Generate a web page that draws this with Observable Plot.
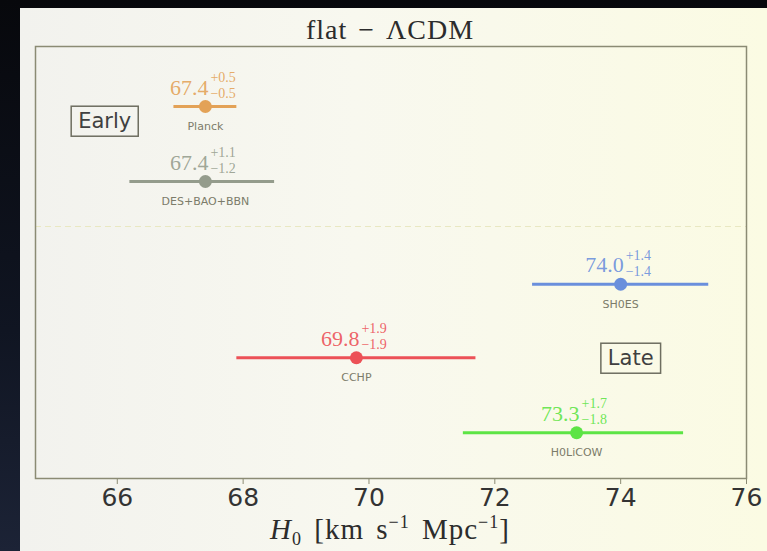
<!DOCTYPE html>
<html>
<head>
<meta charset="utf-8">
<script src="https://cdn.jsdelivr.net/npm/d3@7"></script>
<script src="https://cdn.jsdelivr.net/npm/@observablehq/plot@0.6"></script>
<style>
  html, body { margin: 0; padding: 0; }
  body { width: 767px; height: 551px; overflow: hidden; position: relative;
         background: linear-gradient(180deg, #07080c 0%, #101522 60%, #1c2336 100%); }
  #panel { position: absolute; left: 20px; top: 8px; width: 747px; height: 543px; overflow: hidden;
           background: linear-gradient(90deg, #f2f2ee 0%, #f8f8ef 45%, #fbfbe3 100%); }
  #title { position: absolute; left: 0; width: 740px; top: 5px; text-align: center; line-height: 34px;
           letter-spacing: 1px; word-spacing: 3px;
           font-family: "Liberation Serif", "DejaVu Serif", serif; font-size: 28px; color: #2c2c2c; }
  #chart { position: absolute; left: 0; top: 32px; }
  #xlabel { position: absolute; left: 0; width: 740px; top: 497px; text-align: center; line-height: 34px;
            letter-spacing: 1px; word-spacing: 4px;
            font-family: "Liberation Serif", "DejaVu Serif", serif; font-size: 29px; color: #2c2c2c; }
  #xlabel sub { font-size: 18px; vertical-align: -6px; }
  #xlabel sup { font-size: 18px; vertical-align: 11px; }
</style>
</head>
<body>
<div id="panel">
  <div id="title">flat − ΛCDM</div>
  <div id="chart"></div>
  <div id="xlabel"><i>H</i><sub>0</sub> [km s<sup>−1</sup> Mpc<sup>−1</sup>]</div>
</div>
<script>
// ---- data ----
const names = ["Planck", "DES+BAO+BBN", "SH0ES", "CCHP", "H0LiCOW"];
const values = [67.4, 67.4, 74.0, 69.8, 73.3];
const errPlus = [0.5, 1.1, 1.4, 1.9, 1.7];
const errMinus = [0.5, 1.2, 1.4, 1.9, 1.8];
const rows = [0.8, 1.8, 3.17, 4.15, 5.15];          // vertical level of each measurement
const colors = ["#e3a257", "#949c8c", "#6a8fdc", "#ec5157", "#5de445"];
const groupNames = ["Early", "Late"];
const groupX = [65.8, 74.16];
const groupY = [1.0, 4.16];
const separatorY = [2.4];
const xTicks = [66, 68, 70, 72, 74, 76];

const data = names.map((n, i) => ({
  name: n, value: values[i], plus: errPlus[i], minus: errMinus[i],
  row: rows[i], color: colors[i]
}));
const groups = groupNames.map((g, i) => ({ label: g, x: groupX[i], y: groupY[i] }));

const serif = "Liberation Serif, DejaVu Serif, serif";

const chart = Plot.plot({
  width: 747,
  height: 482,
  marginTop: 6,
  marginBottom: 44,
  marginLeft: 15,
  marginRight: 21,
  style: { background: "transparent", fontFamily: "DejaVu Sans", overflow: "visible" },
  x: { domain: [64.7, 76], label: null },
  y: { domain: [0, 5.76], reverse: true, axis: null },
  color: { type: "identity" },
  marks: [
    Plot.ruleY(separatorY, { stroke: "#e9e8c2", strokeWidth: 1, strokeDasharray: "6,4" }),
    Plot.ruleY(data, { y: "row", x1: d => d.value - d.minus, x2: d => d.value + d.plus, stroke: "color", strokeWidth: 3 }),
    Plot.dot(data, { x: "value", y: "row", r: 6.5, fill: "color", stroke: null }),
    Plot.text(data, { x: "value", y: "row", text: d => d.value.toFixed(1), textAnchor: "end", dx: 3, dy: -19,
      fontSize: 22, fontFamily: serif, fill: "color", fillOpacity: 0.9 }),
    Plot.text(data, { x: "value", y: "row", text: d => "+" + d.plus.toFixed(1), textAnchor: "start", dx: 5, dy: -29,
      fontSize: 14, fontFamily: serif, fill: "color", fillOpacity: 0.9 }),
    Plot.text(data, { x: "value", y: "row", text: d => "−" + d.minus.toFixed(1), textAnchor: "start", dx: 5, dy: -13,
      fontSize: 14, fontFamily: serif, fill: "color", fillOpacity: 0.9 }),
    Plot.text(data, { x: "value", y: "row", text: "name", dy: 20, fontSize: 11, fill: "#7c7c6a" }),
    Plot.text(groups, { x: "x", y: "y", text: "label", fontSize: 21, fill: "#404040" }),
    Plot.frame({ stroke: "#8b8b74", strokeWidth: 1.5 }),
    Plot.axisX({ ticks: xTicks, tickSize: 6, tickPadding: 4, fontSize: 25, stroke: "#8b8b74", fill: "#333333", label: null })
  ]
});
document.getElementById("chart").appendChild(chart);

// draw boxes around the Early / Late labels
d3.select(chart).selectAll("text").filter(function () {
  return groupNames.includes(this.textContent);
}).each(function () {
  const b = this.getBBox();
  const padX = 7, padY = 3;
  d3.select(this.parentNode).insert("rect", () => this)
    .attr("transform", this.getAttribute("transform"))
    .attr("x", b.x - padX).attr("y", b.y - padY)
    .attr("width", b.width + 2 * padX).attr("height", b.height + 2 * padY)
    .attr("fill", "none").attr("stroke", "#6e6e60").attr("stroke-width", 1.5);
});
</script>
</body>
</html>
